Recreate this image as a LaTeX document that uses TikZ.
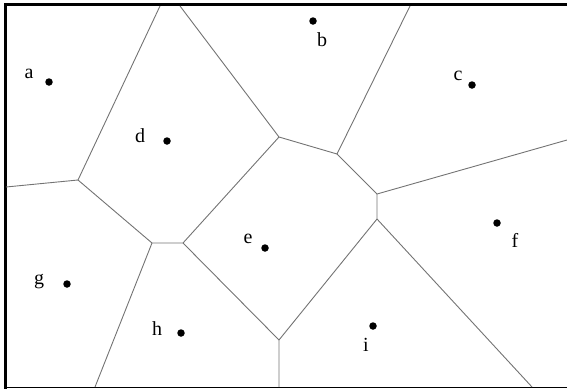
\documentclass[tikz,border=0pt]{standalone}
\usepackage{fontspec}
\setmainfont{Liberation Serif}
\begin{document}
\begin{tikzpicture}[x=1pt,y=-1pt,
  site/.style={circle,fill=black,inner sep=0pt,minimum size=7.5pt},
  lbl/.style={inner sep=0pt,font=\fontsize{20}{20}\selectfont},
  edge/.style={draw=black!55,line width=0.9pt},
  frame/.style={draw=black,line cap=rect}]
\useasboundingbox (0,0) rectangle (567,389);
% frame
\coordinate (ftl) at (5,4.5);
\coordinate (ftr) at (567,4.5);
\coordinate (fbl) at (5,387.5);
\coordinate (fbr) at (567,387.5);
\draw[frame,line width=3pt] (ftr) -- (ftl) -- (fbl);
\draw[frame,line width=1.5pt] (fbl) -- (fbr);
% Voronoi vertices
\coordinate (t1) at (160,6);
\coordinate (t2) at (180,6);
\coordinate (t3) at (410,6);
\coordinate (l1) at (6,187);
\coordinate (r1) at (567,140);
\coordinate (b1) at (95,387);
\coordinate (b2) at (279,387);
\coordinate (b3) at (532,387);
\coordinate (v1) at (78,180);
\coordinate (v2) at (152,243);
\coordinate (v3) at (183,243);
\coordinate (v4) at (279,137);
\coordinate (v5) at (337,154);
\coordinate (v6) at (377,194);
\coordinate (v7) at (377,219);
\coordinate (v8) at (279,340);
% edges
\draw[edge] (t1) -- (v1);
\draw[edge] (l1) -- (v1);
\draw[edge] (v1) -- (v2) -- (v3) -- (v4);
\draw[edge] (t2) -- (v4) -- (v5) -- (t3);
\draw[edge] (v5) -- (v6) -- (r1);
\draw[edge] (v6) -- (v7) -- (v8) -- (b2);
\draw[edge] (v7) -- (b3);
\draw[edge] (v3) -- (v8);
\draw[edge] (v2) -- (b1);
% sites
\node[site] (a) at (49,82) {};
\node[site] (b) at (313,21) {};
\node[site] (c) at (472,85) {};
\node[site] (d) at (167,141) {};
\node[site] (e) at (265,248) {};
\node[site] (f) at (497,223) {};
\node[site] (g) at (67,284) {};
\node[site] (h) at (181,333) {};
\node[site] (i) at (373,326) {};
% labels
\node[lbl] (la) at (29,74) {a};
\node[lbl] (lb) at (322,40) {b};
\node[lbl] (lc) at (458,76) {c};
\node[lbl] (ld) at (140,136) {d};
\node[lbl] (le) at (248,239) {e};
\node[lbl] (lf) at (515,240) {f};
\node[lbl] (lg) at (39,282) {g};
\node[lbl] (lh) at (157,329) {h};
\node[lbl] (li) at (366,345) {i};
\end{tikzpicture}
\end{document}
